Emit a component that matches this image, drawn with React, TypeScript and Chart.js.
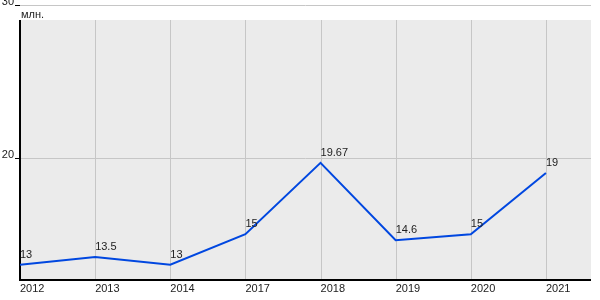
import React, { useEffect, useRef } from "react";
import { Chart, registerables } from "chart.js";

Chart.register(...registerables);

const years = ["2012", "2013", "2014", "2017", "2018", "2019", "2020", "2021"];
const values = [13, 13.5, 13, 15, 19.67, 14.6, 15, 19];
const valueLabels = ["13", "13.5", "13", "15", "19.67", "14.6", "15", "19"];
const yTicks = [20, 30];
const unitLabel = "млн.";

const FONT = "11px Arial, 'Liberation Sans', sans-serif";

export default function App() {
  const ref = useRef<HTMLCanvasElement | null>(null);

  useEffect(() => {
    document.body.style.margin = "0";
    const canvas = ref.current;
    if (!canvas) return;

    const framePlugin = {
      id: "frame",
      beforeDatasetsDraw(chart: any) {
        const { ctx, chartArea, scales } = chart;
        const xs = scales.x;
        const ys = scales.y;
        const boxTop = chartArea.top + 15;
        const left = chartArea.left;
        const right = chartArea.right;
        const bottom = chartArea.bottom;
        ctx.save();
        ctx.fillStyle = "#ebebeb";
        ctx.fillRect(left, boxTop, right - left, bottom - boxTop);
        ctx.strokeStyle = "#c6c6c6";
        ctx.lineWidth = 1;
        years.forEach((_, i) => {
          if (i === 0) return;
          const x = Math.round(xs.getPixelForValue(i)) + 0.5;
          ctx.beginPath();
          ctx.moveTo(x, boxTop);
          ctx.lineTo(x, bottom);
          ctx.stroke();
        });
        yTicks.forEach((v) => {
          const y = Math.round(ys.getPixelForValue(v)) + 0.5;
          ctx.strokeStyle = "#c6c6c6";
          ctx.beginPath();
          ctx.moveTo(left, y);
          ctx.lineTo(right, y);
          ctx.stroke();
          ctx.strokeStyle = "#000";
          ctx.beginPath();
          ctx.moveTo(left - 5, y);
          ctx.lineTo(left, y);
          ctx.stroke();
          ctx.fillStyle = "#222";
          ctx.font = FONT;
          ctx.textAlign = "right";
          ctx.textBaseline = "alphabetic";
          ctx.fillText(String(v), left - 6, y - 1);
        });
        ctx.strokeStyle = "#000";
        ctx.lineWidth = 2;
        ctx.beginPath();
        ctx.moveTo(left, boxTop);
        ctx.lineTo(left, bottom);
        ctx.lineTo(right, bottom);
        ctx.stroke();
        ctx.fillStyle = "#222";
        ctx.font = FONT;
        ctx.textAlign = "left";
        ctx.textBaseline = "alphabetic";
        years.forEach((yr, i) => {
          const x = xs.getPixelForValue(i);
          ctx.fillText(yr, x, bottom + 12);
        });
        ctx.fillText(unitLabel, left + 1, chartArea.top + 13);
        ctx.restore();
      },
      afterDatasetsDraw(chart: any) {
        const { ctx, scales } = chart;
        ctx.save();
        ctx.fillStyle = "#222";
        ctx.font = FONT;
        ctx.textAlign = "left";
        ctx.textBaseline = "alphabetic";
        values.forEach((v, i) => {
          const x = scales.x.getPixelForValue(i);
          const y = scales.y.getPixelForValue(v);
          ctx.fillText(valueLabels[i], x, y - 7);
        });
        ctx.restore();
      },
    };

    const chart = new Chart(canvas, {
      type: "line",
      data: {
        datasets: [
          {
            data: values.map((v, i) => ({ x: i, y: v })),
            borderColor: "#0047e0",
            borderWidth: 2,
            pointRadius: 0,
            tension: 0,
            fill: false,
          },
        ],
      },
      options: {
        animation: false,
        responsive: false,
        maintainAspectRatio: false,
        events: [],
        layout: { padding: { left: 20, top: 5, right: 9, bottom: 20 } },
        plugins: { legend: { display: false }, tooltip: { enabled: false } },
        scales: {
          x: { type: "linear", min: 0, max: 7.6, display: false },
          y: { type: "linear", min: 12, max: 30, display: false },
        },
      },
      plugins: [framePlugin],
    });

    return () => chart.destroy();
  }, []);

  return (
    <div style={{ width: 600, height: 300, background: "#fff" }}>
      <canvas ref={ref} width={600} height={300} style={{ display: "block" }} />
    </div>
  );
}
